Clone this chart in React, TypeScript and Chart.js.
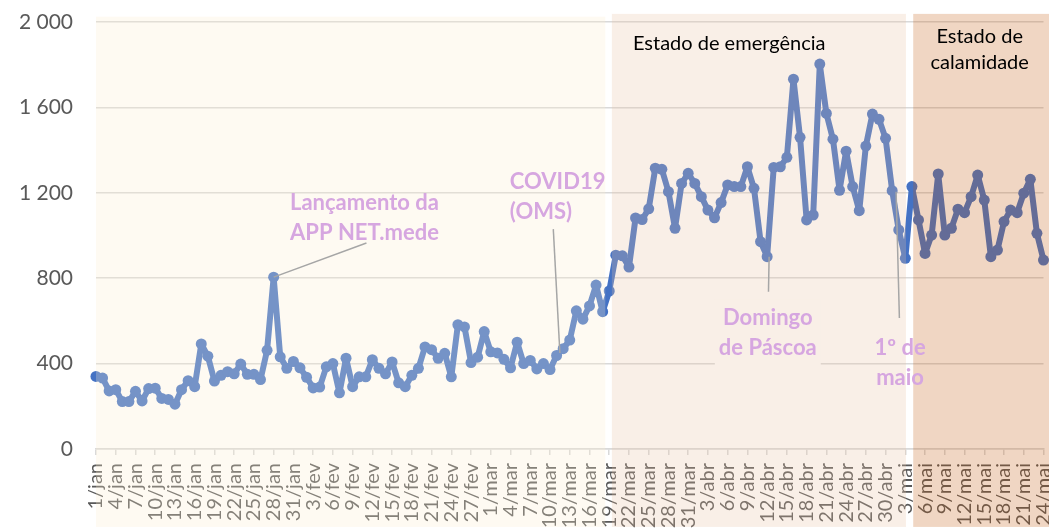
import React, { useEffect, useRef } from "react";
import { Chart, registerables } from "chart.js";

Chart.register(...registerables);

// ---------- data ----------
const MONTHS = ["jan", "fev", "mar", "abr", "mai"];
const MONTH_DAYS = [31, 29, 31, 30, 31];
const DAY_COUNT = 145; // 1/jan .. 24/mai (visible part)

const CATEGORIES: string[] = [];
MONTHS.forEach((m, mi) => {
  for (let d = 1; d <= MONTH_DAYS[mi]; d++) CATEGORIES.push(`${d}/${m}`);
});
const LABELS = CATEGORIES.slice(0, DAY_COUNT);

const JAN = [340, 332, 272, 278, 222, 222, 270, 225, 283, 285, 237, 232, 210, 278, 320, 292, 492, 435, 318, 345, 362, 352, 398, 350, 350, 325, 462, 805, 432, 378, 410];
const FEV = [380, 336, 286, 290, 385, 400, 263, 425, 292, 338, 338, 418, 378, 352, 408, 310, 292, 345, 378, 478, 465, 425, 448, 338, 582, 572, 405, 430, 550];
const MAR = [455, 450, 420, 380, 500, 400, 415, 375, 400, 372, 438, 470, 510, 647, 608, 670, 768, 643, 740, 908, 905, 852, 1082, 1075, 1125, 1315, 1310, 1205, 1034, 1244, 1291];
const ABR = [1244, 1182, 1119, 1083, 1154, 1237, 1229, 1229, 1322, 1221, 971, 901, 1319, 1322, 1366, 1732, 1460, 1073, 1096, 1803, 1572, 1451, 1212, 1395, 1229, 1116, 1419, 1569, 1544, 1455];
const MAI = [1210, 1026, 893, 1229, 1073, 916, 1002, 1288, 1002, 1034, 1123, 1107, 1182, 1283, 1166, 901, 932, 1065, 1119, 1107, 1198, 1263, 1010, 885];
const VALUES = [...JAN, ...FEV, ...MAR, ...ABR, ...MAI];

const Y_MIN = 0;
const Y_MAX = 2000;
const Y_STEP = 400;

// shaded periods (x in day index, y in value units)
const PERIODS = [
  { from: 0, to: 77.4, top: 2025, bottom: -365, color: "rgba(251,236,207,0.27)" },
  { from: 78.4, to: 123.1, top: 2038, bottom: -365, color: "rgba(231,192,162,0.26)" },
  { from: 124.2, to: 150, top: 2038, bottom: -365, color: "rgba(197,90,17,0.25)" },
];

const PURPLE = "rgb(214,166,224)";
const NOTES = [
  { lines: ["Lançamento da", "APP NET.mede"], x: 40.8, y: 1152, align: "center", purple: true, box: null },
  { lines: ["COVID19", "(OMS)"], x: 62.9, y: 1250, align: "left", purple: true, box: null },
  { lines: ["Domingo", "de Páscoa"], x: 102.1, y: 614, align: "center", purple: true, box: "rgb(249,239,231)" },
  { lines: ["1º de", "maio"], x: 122.2, y: 473, align: "center", purple: true, box: null },
  { lines: ["Estado de emergência"], x: 81.6, y: 1897, align: "left", purple: false, box: null },
  { lines: ["Estado de", "calamidade"], x: 134.3, y: 1930, align: "center", purple: false, box: null },
];
const LEADERS = [
  { from: [27, 805], to: [41.1, 965] },
  { from: [70.5, 450], to: [69.5, 1030] },
  { from: [102.3, 900], to: [102.2, 737] },
  { from: [121.6, 1205], to: [122.1, 614] },
];

const fmt = (v: number) => {
  const s = String(Math.round(v));
  return s.replace(/\B(?=(\d{3})+(?!\d))/g, " ");
};

const overlayPlugin = {
  id: "overlayPlugin",
  afterDraw(chart: any) {
    const { ctx, scales } = chart;
    const xs = scales.x;
    const ys = scales.y;
    ctx.save();
    PERIODS.forEach((p) => {
      const x0 = xs.getPixelForValue(p.from);
      const x1 = xs.getPixelForValue(p.to);
      const y0 = ys.getPixelForValue(p.top);
      const y1 = ys.getPixelForValue(p.bottom);
      ctx.fillStyle = p.color;
      ctx.fillRect(x0, y0, x1 - x0, y1 - y0);
    });
    ctx.strokeStyle = "#A6A6A6";
    ctx.lineWidth = 1.5;
    LEADERS.forEach((l) => {
      ctx.beginPath();
      ctx.moveTo(xs.getPixelForValue(l.from[0]), ys.getPixelForValue(l.from[1]));
      ctx.lineTo(xs.getPixelForValue(l.to[0]), ys.getPixelForValue(l.to[1]));
      ctx.stroke();
    });
    ctx.textBaseline = "middle";
    NOTES.forEach((n) => {
      ctx.font = n.purple ? "bold 22px Lato" : "20px Lato";
      ctx.textAlign = n.align;
      const px = xs.getPixelForValue(n.x);
      const py = ys.getPixelForValue(n.y);
      const lh = n.purple ? 29.5 : 26;
      if (n.box) {
        const w = Math.max(...n.lines.map((t) => ctx.measureText(t).width)) + 8;
        ctx.fillStyle = n.box;
        ctx.fillRect(px - w / 2, py - lh / 2 - 4, w, lh * n.lines.length + 12);
      }
      ctx.fillStyle = n.purple ? PURPLE : "#000000";
      n.lines.forEach((t, i) => ctx.fillText(t, px, py + i * lh));
    });
    ctx.restore();
  },
};

export default function App() {
  const ref = useRef<HTMLCanvasElement | null>(null);
  useEffect(() => {
    if (!ref.current) return;
    const chart = new Chart(ref.current, {
      type: "line",
      data: {
        labels: LABELS,
        datasets: [
          {
            data: VALUES,
            borderColor: "#4472C4",
            backgroundColor: "#4472C4",
            borderWidth: 6,
            borderJoinStyle: "round",
            borderCapStyle: "round",
            pointRadius: 5.5,
            pointBorderWidth: 0,
            pointBackgroundColor: "#4472C4",
            tension: 0,
            clip: false as any,
          },
        ],
      },
      options: {
        animation: false,
        responsive: true,
        maintainAspectRatio: false,
        layout: { padding: { top: 22, right: 0, bottom: 0, left: 0 } },
        plugins: { legend: { display: false }, tooltip: { enabled: false } },
        scales: {
          x: {
            type: "category",
            offset: false,
            grid: {
              drawOnChartArea: false,
              drawTicks: true,
              tickLength: 6,
              lineWidth: 1.5,
              color: (c: any) => (c.index % 3 === 0 ? "#D9D9D9" : "rgba(0,0,0,0)"),
            },
            border: { display: true, color: "#D9D9D9", width: 1.5 },
            ticks: {
              autoSkip: false,
              minRotation: 90,
              maxRotation: 90,
              padding: 8,
              color: "#595959",
              font: { family: "Lato", size: 20 },
              callback: (_v: any, i: number) => (i % 3 === 0 ? LABELS[i] : ""),
            },
            afterFit: (s: any) => {
              s.height = 81;
              s.paddingLeft = 0;
              s.paddingRight = 0;
            },
          },
          y: {
            min: Y_MIN,
            max: Y_MAX,
            grid: { color: "#D9D9D9", lineWidth: 1.5, drawTicks: false },
            border: { display: false },
            ticks: {
              stepSize: Y_STEP,
              padding: 23,
              color: "#595959",
              font: { family: "Lato", size: 21 },
              callback: (v: any) => fmt(Number(v)),
            },
            afterFit: (s: any) => {
              s.width = 96;
              s.paddingTop = 0;
              s.paddingBottom = 0;
            },
          },
        },
      },
      plugins: [overlayPlugin],
    });
    return () => chart.destroy();
  }, []);
  return (
    <div style={{ position: "fixed", left: 0, top: 0, width: 1049, height: 530, background: "#fff" }}>
      <canvas ref={ref} />
    </div>
  );
}
